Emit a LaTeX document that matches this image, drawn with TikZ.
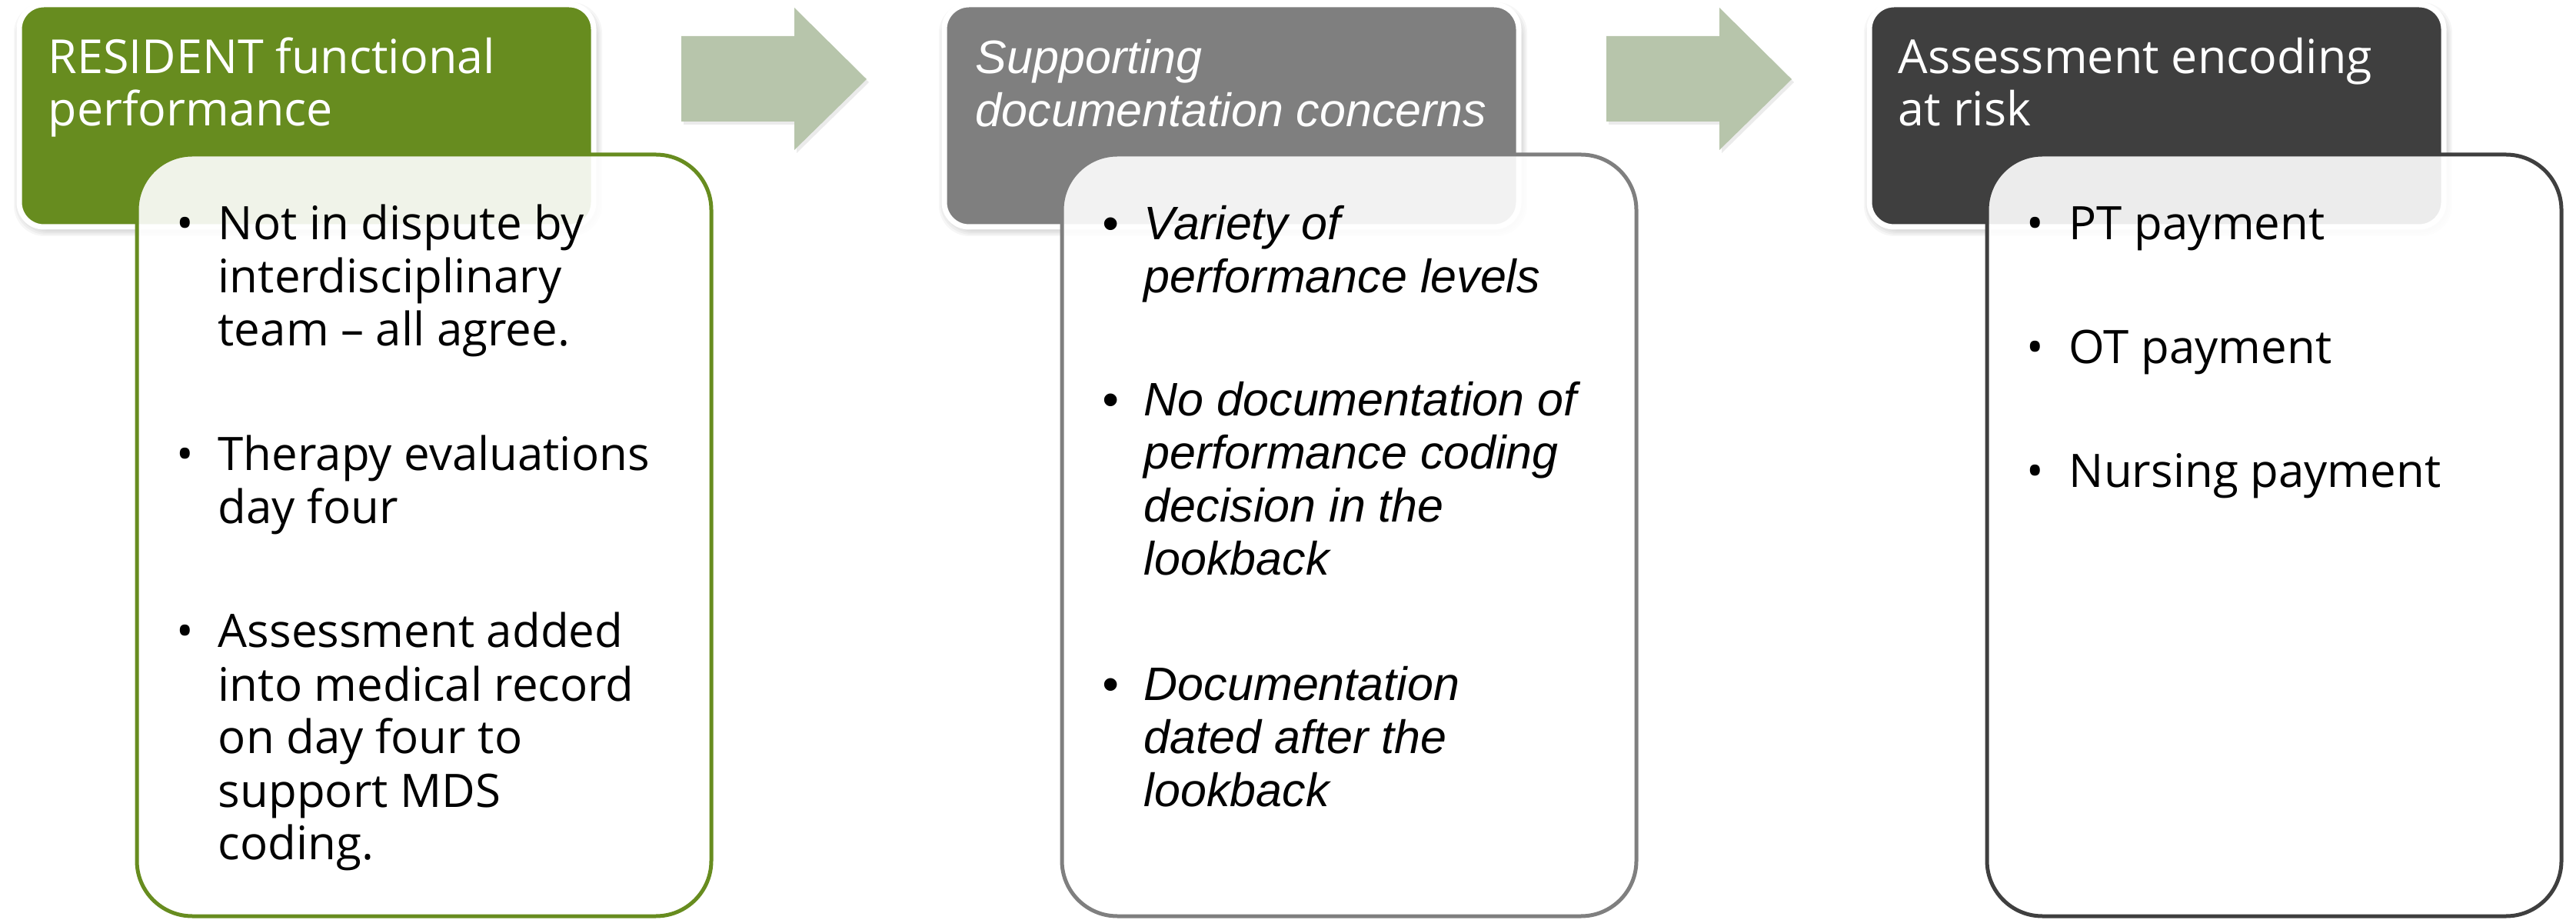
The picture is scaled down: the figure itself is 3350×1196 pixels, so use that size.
\documentclass[tikz,border=0pt]{standalone}
\usepackage{fontspec}
\setmainfont{Open Sans}
\newfontfamily\slantfont{Liberation Sans}

\definecolor{leafgreen}{HTML}{678C1F}
\definecolor{stonegray}{HTML}{7F7F7F}
\definecolor{charcoal}{HTML}{3F3F3F}
\definecolor{sage}{HTML}{B7C5AB}

\newcommand\headsize{\fontsize{15.25pt}{17pt}\selectfont}
\newcommand\itemsize{\fontsize{15pt}{17.25pt}\selectfont}
\newcommand\slantsize{\slantfont\itshape\fontsize{15.25pt}{17.25pt}\selectfont}
\newcommand\linesblock[1]{\parbox[t]{200pt}{\raggedright #1}}

\tikzset{
  headbox/.style={draw=white, line width=1.75pt, rounded corners=8pt,
    minimum width=186.75pt, minimum height=72.25pt,
    anchor=north west, inner sep=0pt, outer sep=0pt},
  bodybox/.style={line width=1.25pt, rounded corners=18pt,
    fill=white, fill opacity=0.9,
    minimum width=186.75pt, minimum height=247.5pt,
    anchor=north west, inner sep=0pt, outer sep=0pt},
  headtext/.style={anchor=base west, inner sep=0pt, text=white, font=\headsize},
  itemtext/.style={anchor=base west, inner sep=0pt, font=\itemsize},
  slanttext/.style={anchor=base west, inner sep=0pt, font=\slantsize},
  dot/.style={anchor=base, inner sep=0pt},
  flowarrow/.style={fill=sage},
}

\begin{document}
\begin{tikzpicture}[x=0.25pt, y=-0.25pt]
\useasboundingbox (0,0) rectangle (3350,1196);

% soft shadows under the three header cards
\foreach \ox in {25,1228,2431} {
  \foreach \k in {1,3,5,7,9}
    \fill[black, opacity=0.035, rounded corners=10pt]
      (\ox+2-\k, 12-\k) rectangle (\ox+749+\k, 298+\k);
}

% header cards
\node[headbox, fill=leafgreen] (head1) at (25,6) {};
\node[headbox, fill=stonegray] (head2) at (1228,6) {};
\node[headbox, fill=charcoal] (head3) at (2431,6) {};

\node[headtext] (title1) at (62,96) {\linesblock{RESIDENT functional\\performance}};
\node[headtext, font=\slantsize] (title2) at (1268,96) {\linesblock{Supporting\\documentation concerns}};
\node[headtext] (title3) at (2468,96) {\linesblock{Assessment encoding\\at risk}};

% block arrows between the stages
\foreach \dx in {0,1203} {
  \fill[black, opacity=0.08, shift={(\dx+3,4)}]
    (886,47) -- (1033,47) -- (1033,10) -- (1127,103) -- (1033,195) -- (1033,158) -- (886,158) -- cycle;
  \fill[flowarrow, shift={(\dx,0)}]
    (886,47) -- (1033,47) -- (1033,10) -- (1127,103) -- (1033,195) -- (1033,158) -- (886,158) -- cycle;
}

% detail cards, laid over the headers
\node[bodybox, draw=leafgreen] (body1) at (178,201) {};
\node[bodybox, draw=stonegray] (body2) at (1381,201) {};
\node[bodybox, draw=charcoal] (body3) at (2584,201) {};

% first card
\node[dot, font=\itemsize] (d11) at (241,312) {•};
\node[itemtext] (t11) at (283,312) {\linesblock{Not in dispute by\\interdisciplinary\\team – all agree.}};
\node[dot, font=\itemsize] (d12) at (241,612) {•};
\node[itemtext] (t12) at (283,612) {\linesblock{Therapy evaluations\\day four}};
\node[dot, font=\itemsize] (d13) at (241,842) {•};
\node[itemtext] (t13) at (283,842) {\linesblock{Assessment added\\into medical record\\on day four to\\support MDS\\coding.}};

% second card
\node[dot, font=\slantsize] (d21) at (1444,312) {•};
\node[slanttext] (t21) at (1487,312) {\linesblock{Variety of\\performance levels}};
\node[dot, font=\slantsize] (d22) at (1444,541) {•};
\node[slanttext] (t22) at (1487,541) {\linesblock{No documentation of\\performance coding\\decision in the\\lookback}};
\node[dot, font=\slantsize] (d23) at (1444,910) {•};
\node[slanttext] (t23) at (1487,910) {\linesblock{Documentation\\dated after the\\lookback}};

% third card
\node[dot, font=\itemsize] (d31) at (2647,312) {•};
\node[itemtext] (t31) at (2690,312) {PT payment};
\node[dot, font=\itemsize] (d32) at (2647,473) {•};
\node[itemtext] (t32) at (2690,473) {OT payment};
\node[dot, font=\itemsize] (d33) at (2647,634) {•};
\node[itemtext] (t33) at (2690,634) {Nursing payment};
\end{tikzpicture}
\end{document}
